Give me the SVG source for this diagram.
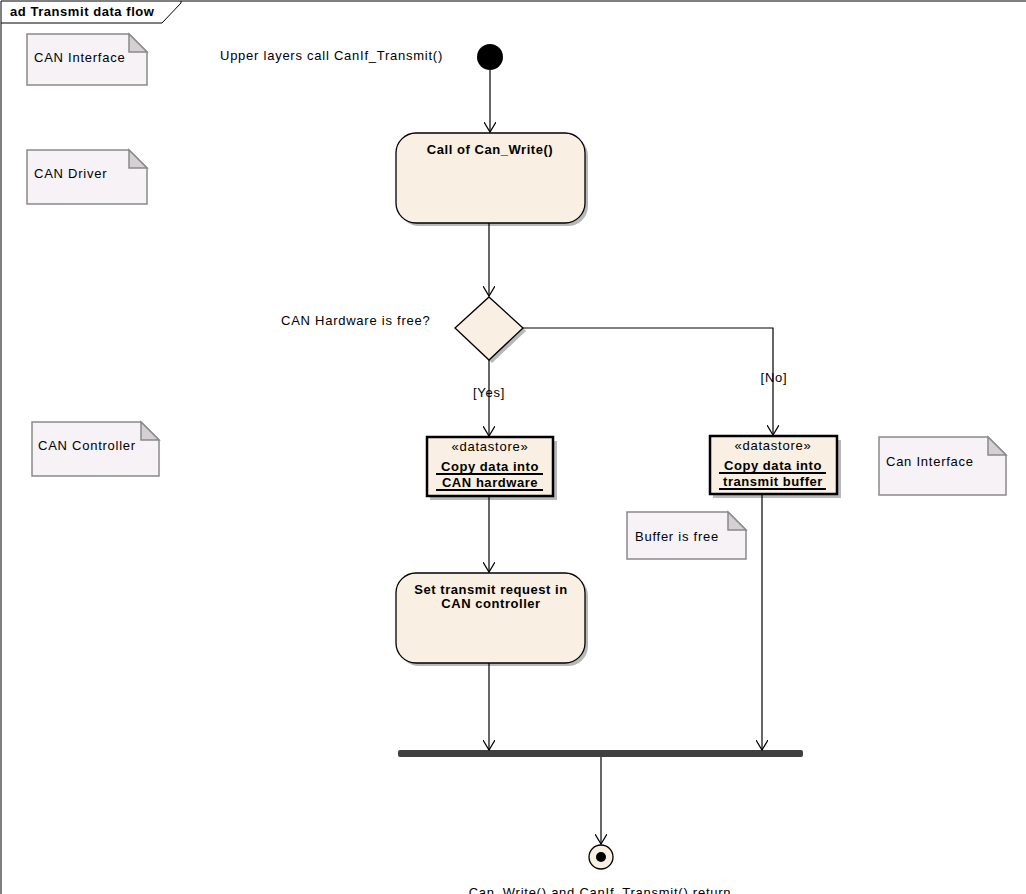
<svg xmlns="http://www.w3.org/2000/svg" width="1026" height="894" viewBox="0 0 1026 894">
<style>
text{font-family:"Liberation Sans",Arial,sans-serif;font-size:13px;fill:#000;letter-spacing:0.75px}
.b{font-weight:bold;letter-spacing:0.55px}
.note{fill:#f6f2f6;stroke:#8a8a8a;stroke-width:1.5}
.fold{fill:#d4d0d4;stroke:#8a8a8a;stroke-width:1.5}
.act{fill:#f9efe2;stroke:#000;stroke-width:1.3}
.shadow{fill:#b8b8b8}
.ds{fill:#f9efe2;stroke:#000;stroke-width:2.5}
.con{fill:none;stroke:#000;stroke-width:1.2}
.ul{stroke:#000;stroke-width:2}
</style>
<defs>
<marker id="arr" markerWidth="12" markerHeight="12" refX="10" refY="6" orient="auto" markerUnits="userSpaceOnUse">
<path d="M0,0 L10,6 L0,12" fill="none" stroke="#000" stroke-width="1.2"/>
</marker>
</defs>
<rect x="0" y="0" width="1026" height="894" fill="#fff"/>
<g id="frame">
<path d="M1,894 V1 H1026" fill="none" stroke="#000" stroke-width="1"/>
<path d="M1,23 H162 L181,3 V1" fill="none" stroke="#000" stroke-width="1"/>
<text x="10" y="16" class="b">ad Transmit data flow</text>
</g>
<g id="note-can-interface">
<path class="note" d="M27,34 H129 L147,52 V85 H27 Z"/>
<path class="fold" d="M129,34 V52 H147 Z"/>
<text x="34" y="62">CAN Interface</text>
</g>
<g id="note-can-driver">
<path class="note" d="M27,150 H129 L147,168 V204 H27 Z"/>
<path class="fold" d="M129,150 V168 H147 Z"/>
<text x="34" y="178">CAN Driver</text>
</g>
<g id="note-can-controller">
<path class="note" d="M32,422 H141 L159,440 V476 H32 Z"/>
<path class="fold" d="M141,422 V440 H159 Z"/>
<text x="38" y="450">CAN Controller</text>
</g>
<g id="note-can-interface2">
<path class="note" d="M879,437 H988 L1006,455 V495 H879 Z"/>
<path class="fold" d="M988,437 V455 H1006 Z"/>
<text x="886" y="466">Can Interface</text>
</g>
<g id="note-buffer-free">
<path class="note" d="M627,512 H728 L746,530 V559 H627 Z"/>
<path class="fold" d="M728,512 V530 H746 Z"/>
<text x="635" y="541">Buffer is free</text>
</g>
<g id="initial">
<circle cx="490" cy="57" r="13" fill="#000"/>
<text x="220" y="60">Upper layers call CanIf_Transmit()</text>
</g>
<g id="call-can-write">
<rect x="399" y="136" width="189" height="90" rx="20" class="shadow"/>
<rect x="396" y="133" width="189" height="90" rx="20" class="act"/>
<text x="490" y="154" class="b" text-anchor="middle">Call of Can_Write()</text>
</g>
<g id="decision">
<path d="M492,300 L526,331 L492,363 L458,331 Z" class="shadow"/>
<path d="M489,297 L523,328 L489,360 L455,328 Z" class="act"/>
<text x="281" y="325">CAN Hardware is free?</text>
</g>
<g id="ds-hardware">
<rect x="430" y="441" width="127" height="59" class="shadow"/>
<rect x="427" y="437" width="126" height="59" class="ds"/>
<text x="490" y="451" text-anchor="middle">«datastore»</text>
<text x="490" y="471" class="b" text-anchor="middle">Copy data into</text>
<line x1="436" y1="474" x2="543" y2="474" class="ul"/>
<text x="490" y="487" class="b" text-anchor="middle">CAN hardware</text>
<line x1="436" y1="490" x2="543" y2="490" class="ul"/>
</g>
<g id="ds-buffer">
<rect x="713" y="440" width="128" height="58" class="shadow"/>
<rect x="710" y="436" width="127" height="58" class="ds"/>
<text x="773" y="450" text-anchor="middle">«datastore»</text>
<text x="773" y="470" class="b" text-anchor="middle">Copy data into</text>
<line x1="719" y1="473" x2="826" y2="473" class="ul"/>
<text x="773" y="486" class="b" text-anchor="middle">transmit buffer</text>
<line x1="719" y1="489" x2="826" y2="489" class="ul"/>
</g>
<g id="set-transmit">
<rect x="399" y="576" width="189" height="90" rx="20" class="shadow"/>
<rect x="396" y="573" width="189" height="90" rx="20" class="act"/>
<text x="491" y="594" class="b" text-anchor="middle">Set transmit request in</text>
<text x="491" y="608" class="b" text-anchor="middle">CAN controller</text>
</g>
<g id="join">
<rect x="398" y="750" width="405" height="7" rx="2" fill="#404040"/>
</g>
<g id="final">
<circle cx="601" cy="857" r="12" fill="#f9efe2" stroke="#000" stroke-width="1.3"/>
<circle cx="601" cy="857" r="5" fill="#000"/>
<text x="600" y="897" text-anchor="middle">Can_Write() and CanIf_Transmit() return</text>
</g>
<g id="connectors">
<line x1="490" y1="70" x2="490" y2="132" class="con" marker-end="url(#arr)"/>
<line x1="489" y1="223" x2="489" y2="296" class="con" marker-end="url(#arr)"/>
<line x1="489" y1="360" x2="489" y2="436" class="con" marker-end="url(#arr)"/>
<text x="489" y="397" text-anchor="middle">[Yes]</text>
<path d="M523,328 H773 V435" class="con" marker-end="url(#arr)"/>
<text x="774" y="382" text-anchor="middle">[No]</text>
<line x1="489" y1="496" x2="489" y2="572" class="con" marker-end="url(#arr)"/>
<line x1="489" y1="663" x2="489" y2="750" class="con" marker-end="url(#arr)"/>
<line x1="762" y1="494" x2="762" y2="750" class="con" marker-end="url(#arr)"/>
<line x1="601" y1="757" x2="601" y2="844" class="con" marker-end="url(#arr)"/>
</g>
</svg>
